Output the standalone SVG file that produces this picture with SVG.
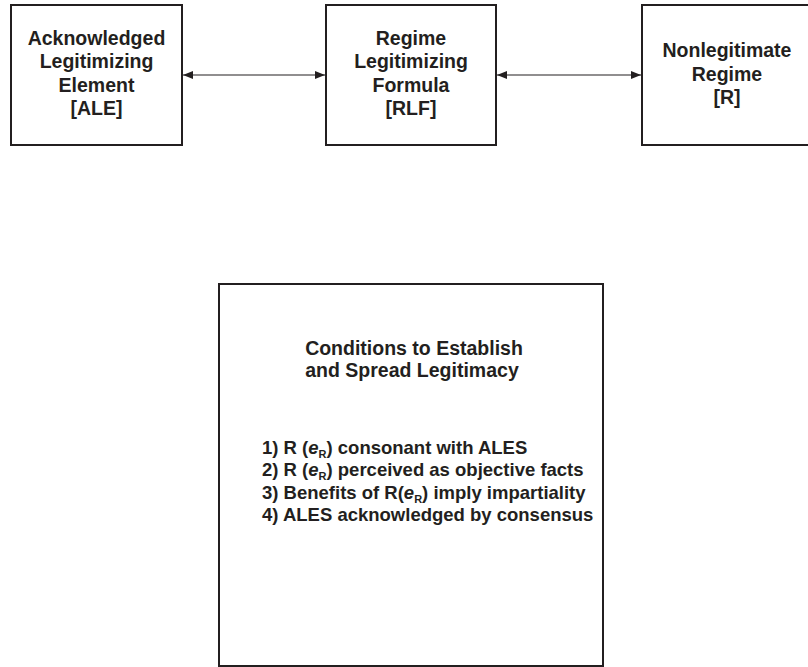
<svg xmlns="http://www.w3.org/2000/svg" width="808" height="667" viewBox="0 0 808 667">
<defs>
<style>
.box{fill:#fff;stroke:#231f20;stroke-width:2}
.t{font-family:"Liberation Sans",Arial,sans-serif;font-weight:bold;font-size:19.5px;fill:#231f20;text-anchor:middle}
.l{font-family:"Liberation Sans",Arial,sans-serif;font-weight:bold;font-size:18.5px;fill:#231f20}
.sub{font-size:11px}
.conn{stroke:#231f20;stroke-width:1.2;fill:none;marker-start:url(#ah);marker-end:url(#ah)}
</style>
<marker id="ah" viewBox="0 0 10 8" refX="10" refY="4" markerWidth="10" markerHeight="8" markerUnits="userSpaceOnUse" orient="auto-start-reverse">
<path d="M0,0 L10,4 L0,8 Z" fill="#231f20"/>
</marker>
</defs>
<rect width="808" height="667" fill="#fff"/>
<g id="connectors">
<line class="conn" x1="183" y1="75" x2="325" y2="75"/>
<line class="conn" x1="497" y1="75" x2="641" y2="75"/>
</g>
<g id="ale">
<rect class="box" x="11" y="5" width="171" height="140"/>
<text class="t" x="96.5" y="45">Acknowledged</text>
<text class="t" x="96.5" y="68.3">Legitimizing</text>
<text class="t" x="96.5" y="91.6">Element</text>
<text class="t" x="96.5" y="114.9">[ALE]</text>
</g>
<g id="rlf">
<rect class="box" x="326" y="5" width="170" height="140"/>
<text class="t" x="411" y="45">Regime</text>
<text class="t" x="411" y="68.3">Legitimizing</text>
<text class="t" x="411" y="91.6">Formula</text>
<text class="t" x="411" y="114.9">[RLF]</text>
</g>
<g id="r">
<rect class="box" x="642" y="5" width="170" height="140"/>
<text class="t" x="727" y="57">Nonlegitimate</text>
<text class="t" x="727" y="80.5">Regime</text>
<text class="t" x="727" y="104">[R]</text>
</g>
<g id="conditions">
<rect class="box" x="219" y="284" width="384" height="382"/>
<text class="t" x="414" y="355">Conditions to Establish</text>
<text class="t" x="412" y="377">and Spread Legitimacy</text>
<text class="l" x="262" y="454">1) R (<tspan font-style="italic">e</tspan><tspan class="sub" dy="4">R</tspan><tspan dy="-4">) consonant with ALES</tspan></text>
<text class="l" x="262" y="476.4">2) R (<tspan font-style="italic">e</tspan><tspan class="sub" dy="4">R</tspan><tspan dy="-4">) perceived as objective facts</tspan></text>
<text class="l" x="262" y="498.6">3) Benefits of R(<tspan font-style="italic">e</tspan><tspan class="sub" dy="4">R</tspan><tspan dy="-4">) imply impartiality</tspan></text>
<text class="l" x="262" y="520.8">4) ALES acknowledged by consensus</text>
</g>
</svg>
